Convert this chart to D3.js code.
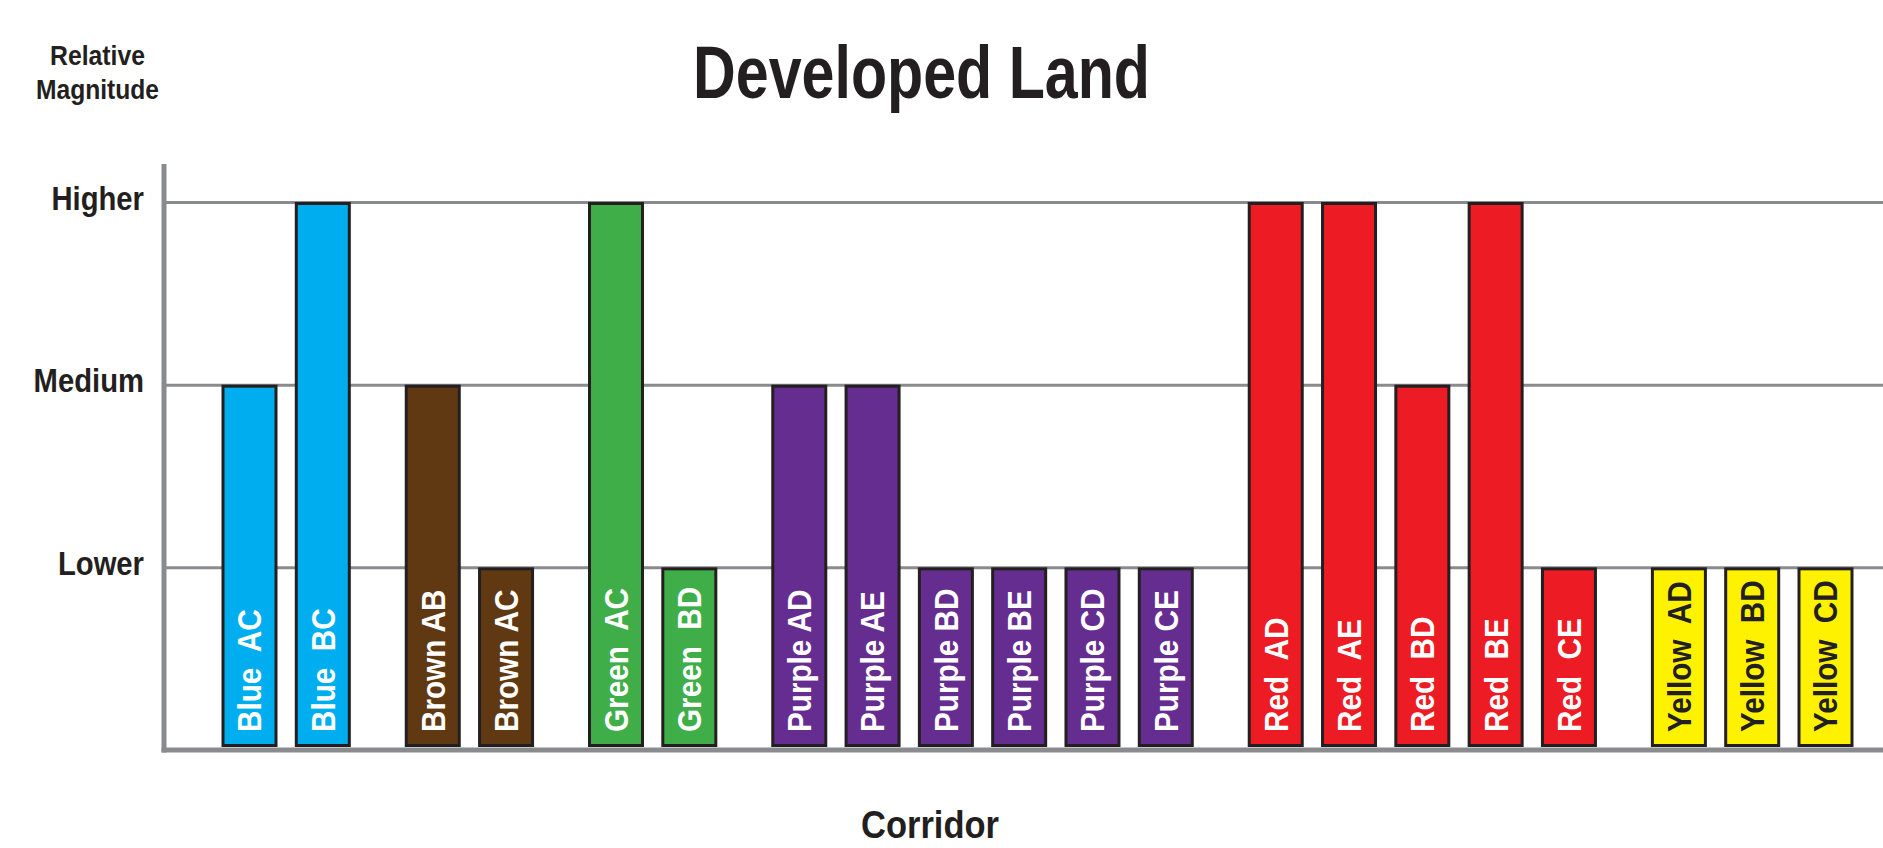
<!DOCTYPE html>
<html>
<head>
<meta charset="utf-8">
<script src="https://cdn.jsdelivr.net/npm/d3@7"></script>
<style>
  html, body { margin: 0; padding: 0; background: #ffffff; }
  svg { display: block; }
  text { font-family: "Liberation Sans", Arial, Helvetica, sans-serif; font-weight: bold; fill: #231f20; }
</style>
</head>
<body>
<svg id="chart" width="1883" height="848"></svg>
<script>
// ---- data ----
const groups      = ["Blue", "Brown", "Green", "Purple", "Red", "Yellow"];
const groupColors = ["#00aeef", "#603913", "#3fae49", "#662d91", "#ed1c24", "#fff200"];
const labelColors = ["#ffffff", "#ffffff", "#ffffff", "#ffffff", "#ffffff", "#231f20"];
const groupSeps   = ["  ", " ", "  ", " ", "  ", "  "];
const categories  = ["AC", "BC", "AB", "AC", "AC", "BD", "AD", "AE", "BD", "BE", "CD", "CE", "AD", "AE", "BD", "BE", "CE", "AD", "BD", "CD"];
const categoryGroup = [0, 0, 1, 1, 2, 2, 3, 3, 3, 3, 3, 3, 4, 4, 4, 4, 4, 5, 5, 5];
const values      = [2, 3, 2, 1, 3, 1, 2, 2, 1, 1, 1, 1, 3, 3, 2, 3, 1, 1, 1, 1];
const tickValues  = [1, 2, 3];
const tickLabels  = ["Lower", "Medium", "Higher"];

const bars = categories.map((c, i) => ({
  code: c, group: categoryGroup[i], value: values[i], index: i,
  label: groups[categoryGroup[i]] + groupSeps[categoryGroup[i]] + c
}));

const svg = d3.select("#chart");
const W = 1883;
const axisX = 164, baseY = 750;

const y = d3.scaleLinear().domain([0, 3]).range([baseY, 202]);
const x = d3.scaleLinear().domain([0, 21.5]).range([223, 1799]);
const barW = 53;

// grid lines + tick labels via axis
const yAxis = d3.axisLeft(y)
  .tickValues(tickValues)
  .tickSize(-(W - axisX))
  .tickPadding(20)
  .tickFormat((d, i) => tickLabels[i]);

const gAxis = svg.append("g").attr("transform", `translate(${axisX},0)`).call(yAxis);
gAxis.select(".domain").remove();
gAxis.selectAll(".tick line").attr("stroke", "#8a8b8e").attr("stroke-width", 3);
gAxis.selectAll(".tick text")
  .attr("x", null).attr("dy", null)
  .attr("transform", "translate(-20,7) scale(0.86,1)")
  .attr("text-anchor", "end")
  .style("font-size", "34px")
  .style("fill", "#231f20");

// bars
const gBars = svg.append("g");
gBars.selectAll("rect").data(bars).enter().append("rect")
  .attr("x", d => x(d.index + d.group * 0.5))
  .attr("y", d => y(d.value) + 1.5)
  .attr("width", barW)
  .attr("height", d => (baseY - 4.5) - (y(d.value) + 1.5))
  .attr("fill", d => groupColors[d.group])
  .attr("stroke", "#231f20")
  .attr("stroke-width", 3);

// bar labels (rotated)
gBars.selectAll("text").data(bars).enter().append("text")
  .attr("transform", d => `translate(${x(d.index + d.group * 0.5) + barW / 2},${baseY - 18}) rotate(-90) scale(0.9,1)`)
  .attr("dy", "0.36em")
  .attr("text-anchor", "start")
  .style("font-size", "33px")
  .style("white-space", "pre")
  .style("fill", d => labelColors[d.group])
  .text(d => d.label);

// axis lines
svg.append("line").attr("x1", axisX).attr("x2", axisX).attr("y1", 164).attr("y2", baseY + 2.5)
  .attr("stroke", "#8a8b8e").attr("stroke-width", 5);
svg.append("line").attr("x1", axisX - 2.5).attr("x2", W).attr("y1", baseY).attr("y2", baseY)
  .attr("stroke", "#8a8b8e").attr("stroke-width", 5);

// titles
svg.append("text").attr("x", 921.5).attr("y", 98)
  .attr("text-anchor", "middle")
  .attr("textLength", 457).attr("lengthAdjust", "spacingAndGlyphs")
  .style("font-size", "74px")
  .text("Developed Land");

svg.append("text").attr("x", 930).attr("y", 838)
  .attr("text-anchor", "middle")
  .attr("textLength", 138).attr("lengthAdjust", "spacingAndGlyphs")
  .style("font-size", "39px")
  .text("Corridor");

svg.append("text").attr("x", 97.5).attr("y", 65)
  .attr("text-anchor", "middle")
  .attr("textLength", 95).attr("lengthAdjust", "spacingAndGlyphs")
  .style("font-size", "28px")
  .text("Relative");
svg.append("text").attr("x", 97.5).attr("y", 99)
  .attr("text-anchor", "middle")
  .attr("textLength", 123).attr("lengthAdjust", "spacingAndGlyphs")
  .style("font-size", "28px")
  .text("Magnitude");
</script>
</body>
</html>
